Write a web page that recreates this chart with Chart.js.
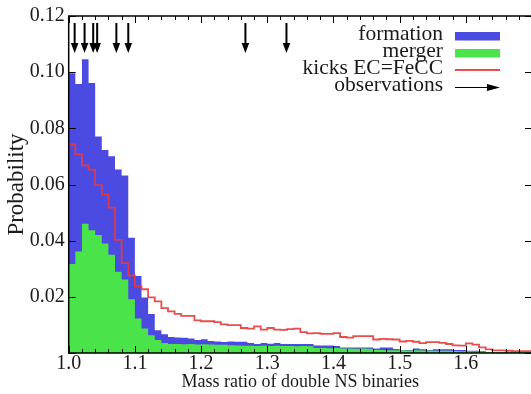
<!DOCTYPE html>
<html lang="en">
<head>
<meta charset="UTF-8">
<title>Mass ratio of double NS binaries</title>
<script src="https://cdn.jsdelivr.net/npm/chart.js"></script>
<style>
  html, body { margin: 0; padding: 0; overflow: hidden; background: #fff; }
</style>
</head>
<body>
<canvas id="massRatioChart" width="540" height="394"></canvas>
<script>
// histogram bins are 0.01 wide, first one starts at q = 1.00
const binStart = 1.0;
const binWidth = 0.01;

const formation = [
  0.0996, 0.0958, 0.1046, 0.0961, 0.0771, 0.0723, 0.0701, 0.0653, 0.0632, 0.0410,
  0.0274, 0.0198, 0.0139, 0.0081, 0.0067, 0.0057, 0.0055, 0.0054, 0.0052, 0.0046,
  0.0049, 0.0043, 0.0041, 0.0039, 0.0041, 0.0040, 0.0040, 0.0036, 0.0032, 0.0036,
  0.0033, 0.0036, 0.0032, 0.0032, 0.0032, 0.0032, 0.0032, 0.0027, 0.0027, 0.0027,
  0.0025, 0.0020, 0.0020, 0.0020, 0.0020, 0.0020, 0.0016, 0.0020, 0.0020, 0.0014,
  0.0011, 0.0011, 0.0016, 0.0013, 0.0011, 0.0013, 0.0013, 0.0013, 0.0011, 0.0011,
  0.0008, 0.0008, 0.0007, 0.0004, 0.0004, 0.0004, 0.0004, 0.0004, 0.0004, 0.0004
];

const merger = [
  0.0317, 0.0361, 0.0460, 0.0437, 0.0420, 0.0390, 0.0350, 0.0289, 0.0262, 0.0191,
  0.0123, 0.0087, 0.0063, 0.0046, 0.0036, 0.0032, 0.0032, 0.0031, 0.0032, 0.0030,
  0.0031, 0.0030, 0.0029, 0.0029, 0.0028, 0.0027, 0.0026, 0.0026, 0.0025, 0.0026,
  0.0025, 0.0026, 0.0025, 0.0025, 0.0024, 0.0025, 0.0024, 0.0018, 0.0018, 0.0017,
  0.0018, 0.0016, 0.0016, 0.0015, 0.0016, 0.0015, 0.0012, 0.0011, 0.0010, 0.0010,
  0.0010, 0.0009, 0.0010, 0.0009, 0.0009, 0.0008, 0.0008, 0.0008, 0.0007, 0.0006,
  0.0006, 0.0005, 0.0005, 0.0004, 0.0003, 0.0003, 0.0003, 0.0003, 0.0003, 0.0003
];

const kicksEcFecc = [
  0.0743, 0.0707, 0.0668, 0.0653, 0.0598, 0.0564, 0.0518, 0.0403, 0.0320, 0.0276,
  0.0237, 0.0227, 0.0198, 0.0184, 0.0160, 0.0148, 0.0139, 0.0132, 0.0132, 0.0116,
  0.0113, 0.0113, 0.0110, 0.0102, 0.0099, 0.0099, 0.0089, 0.0087, 0.0095, 0.0083,
  0.0089, 0.0083, 0.0082, 0.0085, 0.0087, 0.0074, 0.0070, 0.0071, 0.0068, 0.0068,
  0.0071, 0.0057, 0.0055, 0.0060, 0.0060, 0.0060, 0.0048, 0.0050, 0.0049, 0.0048,
  0.0041, 0.0043, 0.0040, 0.0035, 0.0039, 0.0039, 0.0036, 0.0032, 0.0027, 0.0026,
  0.0034, 0.0030, 0.0020, 0.0013, 0.0009, 0.0009, 0.0008, 0.0007, 0.0007, 0.0007
];

// observed double NS mass ratios (arrows along the top)
const observations = [1.009, 1.024, 1.037, 1.043, 1.072, 1.090, 1.267, 1.329];

const seriesLabels = ['formation', 'merger', 'kicks EC=FeCC', 'observations'];
const xMin = 1.0, xMax = 1.7;
const yMin = 0, yMax = 0.12;

const blue = '#4b4be2';
const green = '#4ae44a';
const red = 'rgba(232, 58, 58, 0.9)';
const ink = '#1a1a1a';
const serif = "'Liberation Serif', 'DejaVu Serif', serif";

// turn bin heights into points at the left edge of each bin (+ closing edge)
function toSteps(values) {
  const pts = values.map((v, i) => ({ x: binStart + i * binWidth, y: v }));
  pts.push({ x: binStart + values.length * binWidth, y: values[values.length - 1] });
  return pts;
}

function isMajorX(v) {
  return Math.abs(v * 10 - Math.round(v * 10)) < 1e-6;
}

// frame, inward ticks, observation arrows and the legend
const decorations = {
  id: 'decorations',
  afterDatasetsDraw(chart) {
    const { ctx, chartArea: a, scales: { x, y } } = chart;
    ctx.save();

    // observation arrows
    ctx.strokeStyle = '#000';
    ctx.fillStyle = '#000';
    ctx.lineWidth = 2;
    observations.forEach(q => {
      const px = x.getPixelForValue(q);
      const top = y.getPixelForValue(0.1175);
      const tip = y.getPixelForValue(0.1068);
      ctx.beginPath();
      ctx.moveTo(px, top);
      ctx.lineTo(px, tip - 6);
      ctx.stroke();
      ctx.beginPath();
      ctx.moveTo(px - 3.8, tip - 10);
      ctx.lineTo(px + 3.8, tip - 10);
      ctx.lineTo(px, tip);
      ctx.closePath();
      ctx.fill();
    });

    // ticks pointing into the plot
    ctx.strokeStyle = '#000';
    ctx.lineWidth = 1;
    x.ticks.forEach(t => {
      const px = Math.round(x.getPixelForValue(t.value)) + 0.5;
      const len = isMajorX(t.value) ? 7 : 4;
      ctx.beginPath();
      ctx.moveTo(px, a.bottom); ctx.lineTo(px, a.bottom - len);
      ctx.moveTo(px, a.top); ctx.lineTo(px, a.top + len);
      ctx.stroke();
    });
    y.ticks.forEach(t => {
      const py = Math.round(y.getPixelForValue(t.value)) + 0.5;
      ctx.beginPath();
      ctx.moveTo(a.left, py); ctx.lineTo(a.left + 7, py);
      ctx.moveTo(a.right, py); ctx.lineTo(a.right - 7, py);
      ctx.stroke();
    });

    // plot frame
    ctx.lineWidth = 1.5;
    ctx.strokeRect(a.left, a.top, a.right - a.left, a.bottom - a.top);

    // legend, text right aligned with the sample to its right
    ctx.font = '21.5px ' + serif;
    ctx.fillStyle = ink;
    ctx.textAlign = 'right';
    ctx.textBaseline = 'alphabetic';
    const baselines = [40, 57, 74, 91];
    seriesLabels.forEach((lbl, i) => ctx.fillText(lbl, 443, baselines[i]));

    ctx.fillStyle = blue;
    ctx.fillRect(455, 32, 45, 8.5);
    ctx.fillStyle = green;
    ctx.fillRect(455, 49, 45, 8.5);
    ctx.strokeStyle = red;
    ctx.lineWidth = 1.8;
    ctx.beginPath();
    ctx.moveTo(455, 70); ctx.lineTo(500, 70);
    ctx.stroke();
    ctx.strokeStyle = '#000';
    ctx.fillStyle = '#000';
    ctx.lineWidth = 1.2;
    ctx.beginPath();
    ctx.moveTo(455, 87.5); ctx.lineTo(490, 87.5);
    ctx.stroke();
    ctx.beginPath();
    ctx.moveTo(487, 84); ctx.lineTo(500, 87.5); ctx.lineTo(487, 91);
    ctx.closePath();
    ctx.fill();

    ctx.restore();
  }
};

const ctx = document.getElementById('massRatioChart').getContext('2d');
new Chart(ctx, {
  type: 'line',
  data: {
    datasets: [
      {
        label: seriesLabels[2],
        data: toSteps(kicksEcFecc),
        stepped: true,
        fill: false,
        borderColor: red,
        borderWidth: 1.8,
        pointRadius: 0,
        order: 1
      },
      {
        label: seriesLabels[1],
        data: toSteps(merger),
        stepped: true,
        fill: 'origin',
        backgroundColor: green,
        borderColor: 'rgba(0,0,0,0)',
        borderWidth: 0,
        pointRadius: 0,
        order: 2
      },
      {
        label: seriesLabels[0],
        data: toSteps(formation),
        stepped: true,
        fill: 'origin',
        backgroundColor: blue,
        borderColor: 'rgba(0,0,0,0)',
        borderWidth: 0,
        pointRadius: 0,
        order: 3
      }
    ]
  },
  options: {
    responsive: false,
    animation: false,
    layout: { padding: { top: 11, right: 8, left: 0, bottom: 0 } },
    plugins: {
      legend: { display: false },
      tooltip: { enabled: false }
    },
    scales: {
      x: {
        type: 'linear',
        min: xMin,
        max: xMax,
        grid: { display: false, drawTicks: false },
        border: { display: false },
        ticks: {
          stepSize: 0.02,
          autoSkip: false,
          maxRotation: 0,
          padding: -1,
          color: ink,
          font: { family: serif, size: 20 },
          callback: v => (isMajorX(v) && v < 1.65) ? v.toFixed(1) : ''
        },
        title: {
          display: true,
          text: 'Mass ratio of double NS binaries',
          color: ink,
          font: { family: serif, size: 18 },
          padding: { top: 0, bottom: 1 }
        },
        afterFit: s => { s.height = 41; }
      },
      y: {
        min: yMin,
        max: yMax,
        grid: { display: false, drawTicks: false },
        border: { display: false },
        ticks: {
          stepSize: 0.02,
          padding: 4,
          color: ink,
          font: { family: serif, size: 20 },
          callback: v => v > 0.001 ? v.toFixed(2) : ''
        },
        title: {
          display: true,
          text: 'Probability',
          color: ink,
          font: { family: serif, size: 23 },
          padding: { top: 3, bottom: 0 }
        },
        afterFit: s => { s.width = 68.7; }
      }
    }
  },
  plugins: [decorations]
});
</script>
</body>
</html>
